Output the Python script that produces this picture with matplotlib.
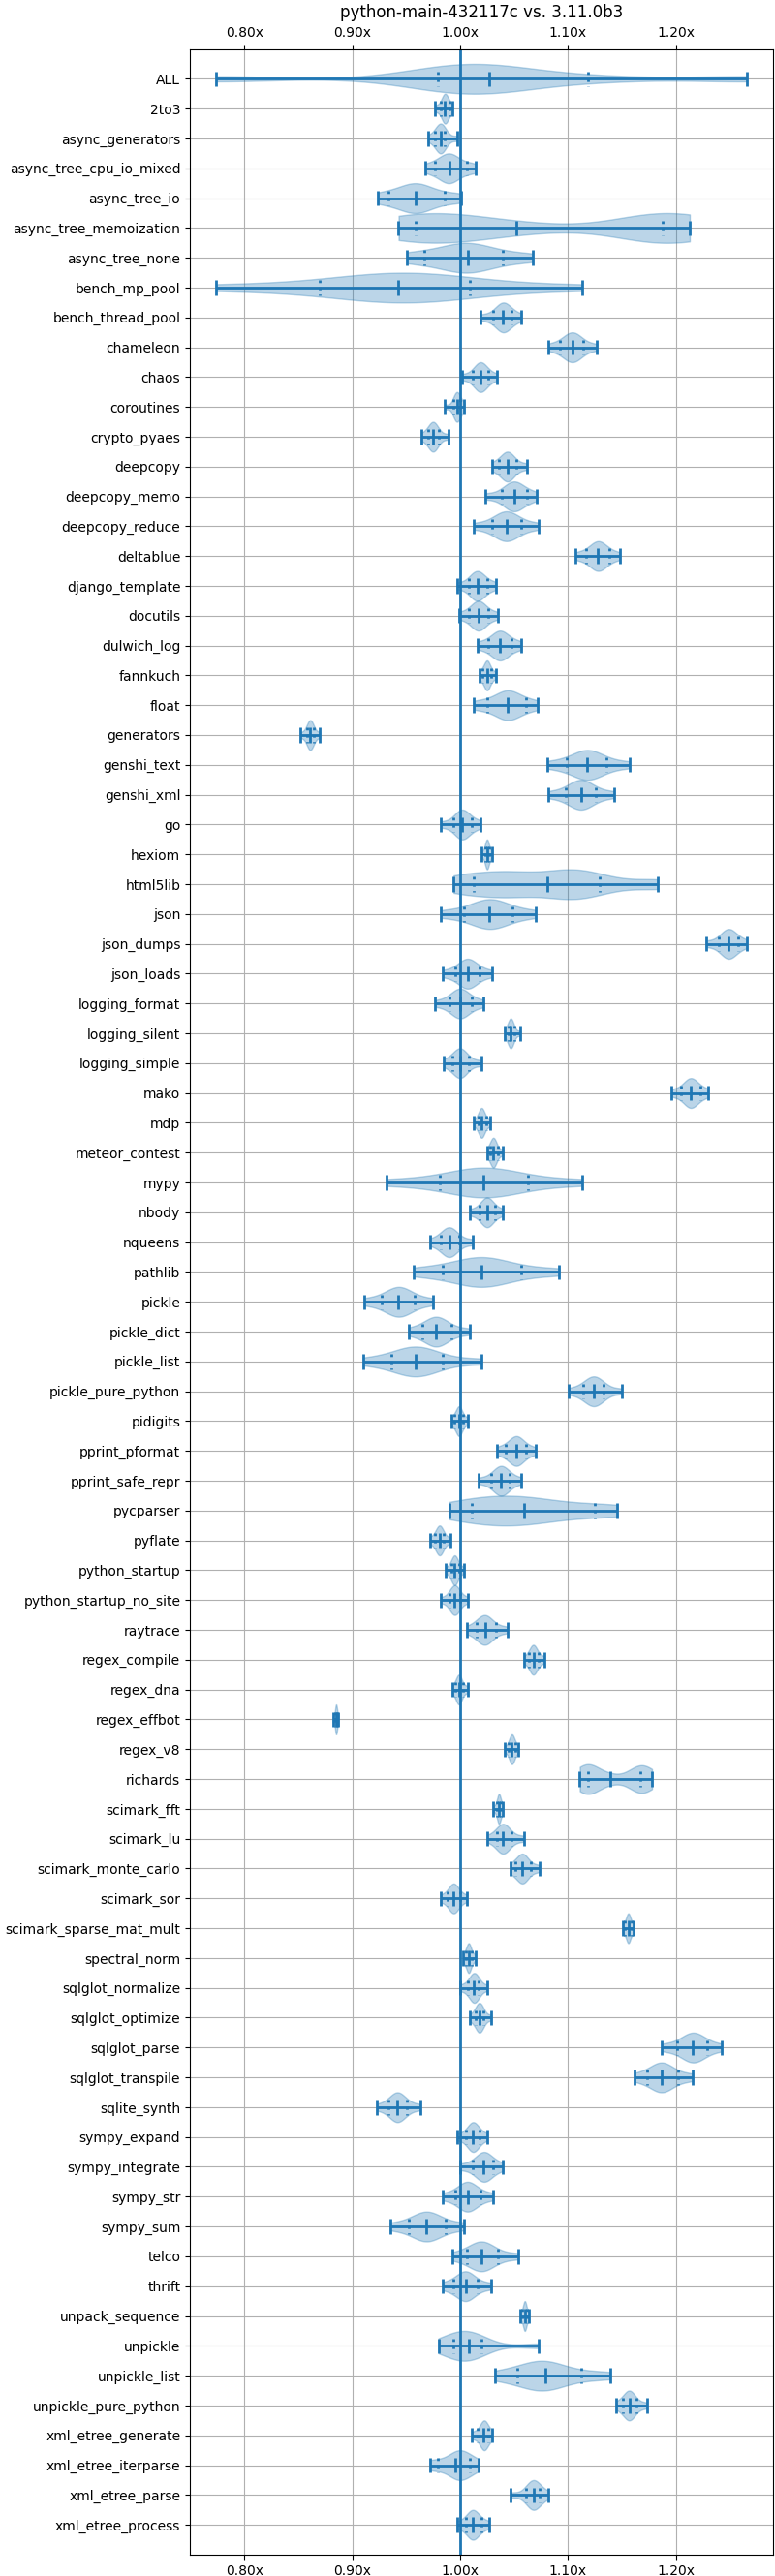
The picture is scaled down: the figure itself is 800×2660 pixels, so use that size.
import numpy as np
import matplotlib
matplotlib.use("Agg")
from matplotlib import pyplot as plt
from matplotlib.ticker import MultipleLocator, StrMethodFormatter

title = "python-main-432117c vs. 3.11.0b3"

benchmarks = [
    "ALL", "2to3", "async_generators", "async_tree_cpu_io_mixed", "async_tree_io",
    "async_tree_memoization", "async_tree_none", "bench_mp_pool", "bench_thread_pool",
    "chameleon", "chaos", "coroutines", "crypto_pyaes", "deepcopy", "deepcopy_memo",
    "deepcopy_reduce", "deltablue", "django_template", "docutils", "dulwich_log",
    "fannkuch", "float", "generators", "genshi_text", "genshi_xml", "go", "hexiom",
    "html5lib", "json", "json_dumps", "json_loads", "logging_format", "logging_silent",
    "logging_simple", "mako", "mdp", "meteor_contest", "mypy", "nbody", "nqueens",
    "pathlib", "pickle", "pickle_dict", "pickle_list", "pickle_pure_python", "pidigits",
    "pprint_pformat", "pprint_safe_repr", "pycparser", "pyflate", "python_startup",
    "python_startup_no_site", "raytrace", "regex_compile", "regex_dna", "regex_effbot",
    "regex_v8", "richards", "scimark_fft", "scimark_lu", "scimark_monte_carlo",
    "scimark_sor", "scimark_sparse_mat_mult", "spectral_norm", "sqlglot_normalize",
    "sqlglot_optimize", "sqlglot_parse", "sqlglot_transpile", "sqlite_synth",
    "sympy_expand", "sympy_integrate", "sympy_str", "sympy_sum", "telco", "thrift",
    "unpack_sequence", "unpickle", "unpickle_list", "unpickle_pure_python",
    "xml_etree_generate", "xml_etree_iterparse", "xml_etree_parse", "xml_etree_process",
]

# per benchmark: min, low quantile, median, high quantile, max (speedup ratio)
mins = [
    0.774, 0.977, 0.970, 0.968, 0.924, 0.943, 0.951, 0.774, 1.019,
    1.082, 1.002, 0.986, 0.964, 1.030, 1.023, 1.013, 1.107, 0.997, 0.999, 1.016,
    1.018, 1.013, 0.852, 1.081, 1.082, 0.982, 1.020, 0.994, 0.982, 1.228, 0.984,
    0.977, 1.041, 0.985, 1.196, 1.013, 1.025, 0.932, 1.009, 0.972, 0.957, 0.911,
    0.952, 0.910, 1.101, 0.992, 1.034, 1.017, 0.990, 0.972, 0.987, 0.982, 1.006,
    1.059, 0.993, 0.882, 1.041, 1.111, 1.031, 1.025, 1.047, 0.982, 1.151, 1.003,
    1.000, 1.009, 1.187, 1.162, 0.923, 0.997, 1.000, 0.984, 0.935, 0.993, 0.984,
    1.056, 0.980, 1.032, 1.145, 1.011, 0.972, 1.047, 0.997,
]
q_low = [
    0.979, 0.982, 0.977, 0.977, 0.934, 0.959, 0.967, 0.870, 1.031,
    1.093, 1.012, 0.994, 0.970, 1.036, 1.039, 1.030, 1.117, 1.008, 1.008, 1.026,
    1.021, 1.025, 0.858, 1.099, 1.098, 0.994, 1.023, 1.013, 1.004, 1.240, 0.996,
    0.990, 1.045, 0.993, 1.205, 1.017, 1.028, 0.981, 1.018, 0.982, 0.984, 0.927,
    0.965, 0.936, 1.114, 0.995, 1.042, 1.029, 1.011, 0.977, 0.992, 0.990, 1.015,
    1.064, 0.996, 0.884, 1.045, 1.119, 1.034, 1.034, 1.051, 0.988, 1.153, 1.005,
    1.007, 1.014, 1.201, 1.173, 0.934, 1.005, 1.012, 0.996, 0.952, 1.006, 0.994,
    1.058, 0.994, 1.053, 1.151, 1.016, 0.979, 1.061, 1.005,
]
medians = [
    1.027, 0.986, 0.982, 0.990, 0.959, 1.052, 1.007, 0.943, 1.040,
    1.104, 1.019, 0.997, 0.975, 1.044, 1.050, 1.043, 1.128, 1.016, 1.017, 1.037,
    1.025, 1.044, 0.861, 1.118, 1.112, 1.002, 1.025, 1.081, 1.027, 1.249, 1.007,
    1.000, 1.047, 1.000, 1.214, 1.020, 1.031, 1.022, 1.025, 0.990, 1.020, 0.943,
    0.978, 0.959, 1.124, 0.999, 1.052, 1.038, 1.059, 0.981, 0.995, 0.995, 1.023,
    1.068, 0.999, 0.885, 1.048, 1.139, 1.036, 1.040, 1.058, 0.994, 1.156, 1.008,
    1.013, 1.018, 1.216, 1.187, 0.942, 1.012, 1.022, 1.007, 0.969, 1.020, 1.005,
    1.060, 1.008, 1.079, 1.157, 1.022, 0.996, 1.068, 1.012,
]
q_high = [
    1.119, 0.990, 0.986, 1.006, 0.986, 1.188, 1.040, 1.009, 1.048,
    1.114, 1.026, 1.000, 0.980, 1.052, 1.062, 1.057, 1.138, 1.025, 1.026, 1.048,
    1.029, 1.061, 0.864, 1.136, 1.126, 1.011, 1.027, 1.129, 1.049, 1.258, 1.018,
    1.011, 1.050, 1.008, 1.223, 1.024, 1.035, 1.063, 1.032, 0.999, 1.057, 0.958,
    0.992, 0.984, 1.133, 1.003, 1.061, 1.046, 1.125, 0.985, 0.999, 1.000, 1.033,
    1.073, 1.003, 0.886, 1.051, 1.167, 1.038, 1.048, 1.066, 1.000, 1.159, 1.011,
    1.017, 1.022, 1.229, 1.202, 0.951, 1.018, 1.031, 1.019, 0.987, 1.035, 1.016,
    1.062, 1.020, 1.112, 1.164, 1.026, 1.009, 1.074, 1.020,
]
maxs = [
    1.266, 0.993, 0.997, 1.014, 1.001, 1.213, 1.067, 1.113, 1.057,
    1.127, 1.034, 1.004, 0.989, 1.062, 1.071, 1.073, 1.148, 1.033, 1.035, 1.057,
    1.033, 1.072, 0.870, 1.157, 1.143, 1.019, 1.030, 1.183, 1.070, 1.266, 1.030,
    1.022, 1.056, 1.020, 1.230, 1.028, 1.040, 1.113, 1.040, 1.012, 1.092, 0.975,
    1.009, 1.020, 1.150, 1.007, 1.070, 1.057, 1.146, 0.991, 1.004, 1.007, 1.044,
    1.078, 1.007, 0.887, 1.054, 1.178, 1.040, 1.059, 1.074, 1.006, 1.161, 1.014,
    1.025, 1.029, 1.243, 1.216, 0.963, 1.025, 1.040, 1.031, 1.004, 1.054, 1.029,
    1.064, 1.073, 1.139, 1.173, 1.030, 1.017, 1.082, 1.027,
]

# where the bulk of the runs sits (below / above the median), when it is not
# right at the median
peaks = {
    "ALL": (0.998, 1.030),
    "async_tree_memoization": (0.990, 1.185),
    "async_tree_none": (1.000, 1.010),
    "bench_mp_pool": (0.930, 0.965),
    "html5lib": (1.045, 1.105),
    "json": (1.025, 1.030),
    "pycparser": (1.030, 1.070),
    "richards": (1.120, 1.166),
    "unpickle": (1.001, 1.008),
    "unpickle_list": (1.075, 1.079),
    "xml_etree_iterparse": (0.996, 1.002),
}
# spread-out benchmarks whose runs fall in separate clumps
clumped = ["ALL", "async_tree_memoization", "html5lib", "richards"]

data = []
for i, name in enumerate(benchmarks):
    lo, hi = peaks.get(name, (medians[i], medians[i]))
    data.append([mins[i], q_low[i], lo, lo, medians[i], hi, hi, q_high[i], maxs[i]])

positions = np.arange(1, len(benchmarks) + 1)

fig = plt.figure(figsize=(8, 26.6), dpi=100)
ax = fig.add_axes([0.245, 0.0083, 0.753, 0.9727])


def draw(idx, bw):
    parts = ax.violinplot(
        [data[i] for i in idx],
        positions=positions[idx],
        vert=False,
        widths=1.0,
        showmedians=True,
        quantiles=[[0.125, 0.875]] * len(idx),
        bw_method=bw,
    )
    for body in parts["bodies"]:
        body.set_facecolor("C0")
        body.set_edgecolor("C0")
        body.set_alpha(0.3)
    for key in ("cbars", "cmins", "cmaxes", "cmedians", "cquantiles"):
        parts[key].set_color("C0")
        parts[key].set_linewidth(2)
    parts["cquantiles"].set_linestyle(":")


plain = [i for i, name in enumerate(benchmarks) if name not in clumped]
spread = [i for i, name in enumerate(benchmarks) if name in clumped]
draw(plain, None)
draw(spread, 0.4)

ax.axvline(1.0, color="C0", linewidth=2)
ax.set_yticks(positions)
ax.set_yticklabels(benchmarks)
ax.set_ylim(len(benchmarks) + 1, 0)
ax.xaxis.set_major_locator(MultipleLocator(0.1))
ax.xaxis.set_major_formatter(StrMethodFormatter("{x:.2f}x"))
ax.tick_params(axis="x", top=True, labeltop=True)
ax.grid()
ax.set_axisbelow(True)
ax.set_title(title)

fig.savefig("out.png")
